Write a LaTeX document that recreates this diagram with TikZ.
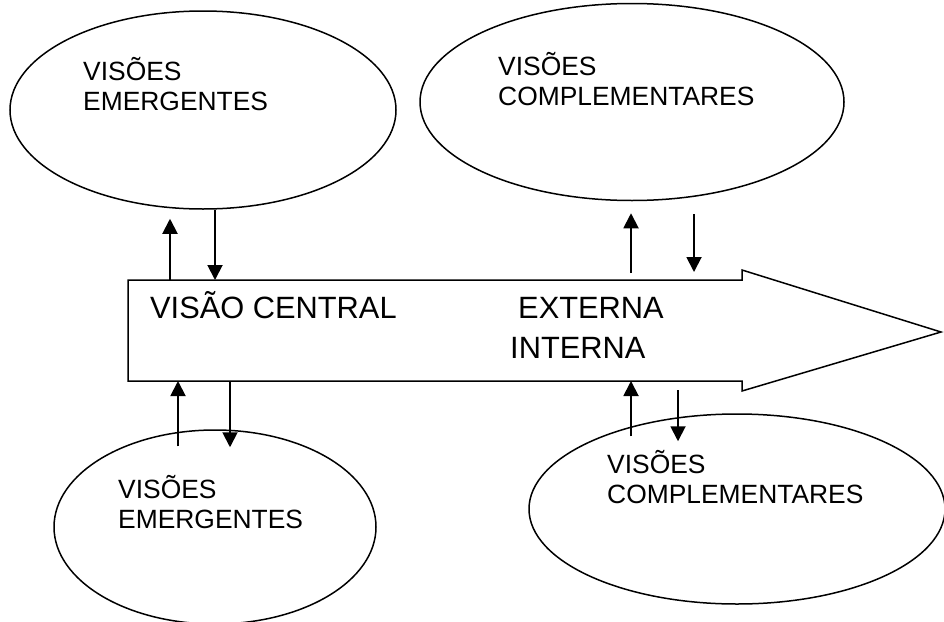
\documentclass[tikz,border=0pt]{standalone}
\usepackage{fontspec}
\setmainfont{Liberation Sans}
\usetikzlibrary{arrows.meta}
\usetikzlibrary{shapes.geometric}
\usetikzlibrary{positioning}
\tikzset{vis/.style = {draw, ellipse, line width = 1.5pt, inner sep = 0}}
\tikzset{lbl/.style = {anchor = base west, inner sep = 0, align = left, font = \fontsize{26.4}{30}\selectfont}}
\tikzset{big/.style = {anchor = base west, inner sep = 0, font = \fontsize{30.8}{40}\selectfont}}
\tikzset{flow/.style = {line width = 1.9pt, -{Triangle[length = 15pt, width = 15pt]}}}

\begin{document}
\begin{tikzpicture}[x = 1pt, y = -1pt]
  \useasboundingbox (0, 0) rectangle (944, 621);

  % central arrow
  \draw [line width = 1.5pt] (128, 280) -- (742, 280) -- (742, 270) -- (941, 332)
    -- (742, 391) -- (742, 381) -- (128, 381) -- cycle;
  \coordinate (ctop) at (128, 280);
  \coordinate (cbot) at (128, 381);

  \node [vis, minimum width = 386pt, minimum height = 198pt] (emtop) at (203, 110) {};
  \node [vis, minimum width = 424pt, minimum height = 197pt] (comptop) at (632, 102) {};
  \node [vis, minimum width = 322pt, minimum height = 194pt] (embot) at (215, 527) {};
  \node [vis, minimum width = 416pt, minimum height = 190pt] (compbot) at (737, 509) {};

  % anchored at the baseline of the second line
  \node [lbl] (emtoptxt) at (83, 110) {VISÕES\\EMERGENTES};
  \node [lbl] (comptoptxt) at (498, 105) {VISÕES\\COMPLEMENTARES};
  \node [lbl] (embottxt) at (118, 528) {VISÕES\\EMERGENTES};
  \node [lbl] (compbottxt) at (607, 503) {VISÕES\\COMPLEMENTARES};

  \node [big] (central) at (150, 318) {VISÃO CENTRAL};
  \node [big] (ext) at (518, 318) {EXTERNA};
  \node [big] (int) at (510, 358) {INTERNA};

  % up and down
  \draw [flow, shorten >= 9pt] (ctop -| 170,0) -- (emtop.south -| 170,0);
  \draw [flow] (emtop.south -| 215,0) -- (ctop -| 215,0);
  \draw [flow, shorten <= -17pt] (embot.north -| 178,0) -- (cbot -| 178,0);
  \draw [flow, shorten >= -18pt] (cbot -| 230,0) -- (embot.north -| 230,0);
  \draw [flow, shorten <= 7pt, shorten >= 12pt] (ctop -| 631,0) -- (comptop.south -| 631,0);
  \draw [flow, shorten <= 13pt, shorten >= 8pt] (comptop.south -| 694,0) -- (ctop -| 694,0);
  \draw [flow, shorten <= -23pt] (compbot.north -| 631,0) -- (cbot -| 631,0);
  \draw [flow, shorten <= 9pt, shorten >= -28pt] (cbot -| 678,0) -- (compbot.north -| 678,0);
\end{tikzpicture}
\end{document}
